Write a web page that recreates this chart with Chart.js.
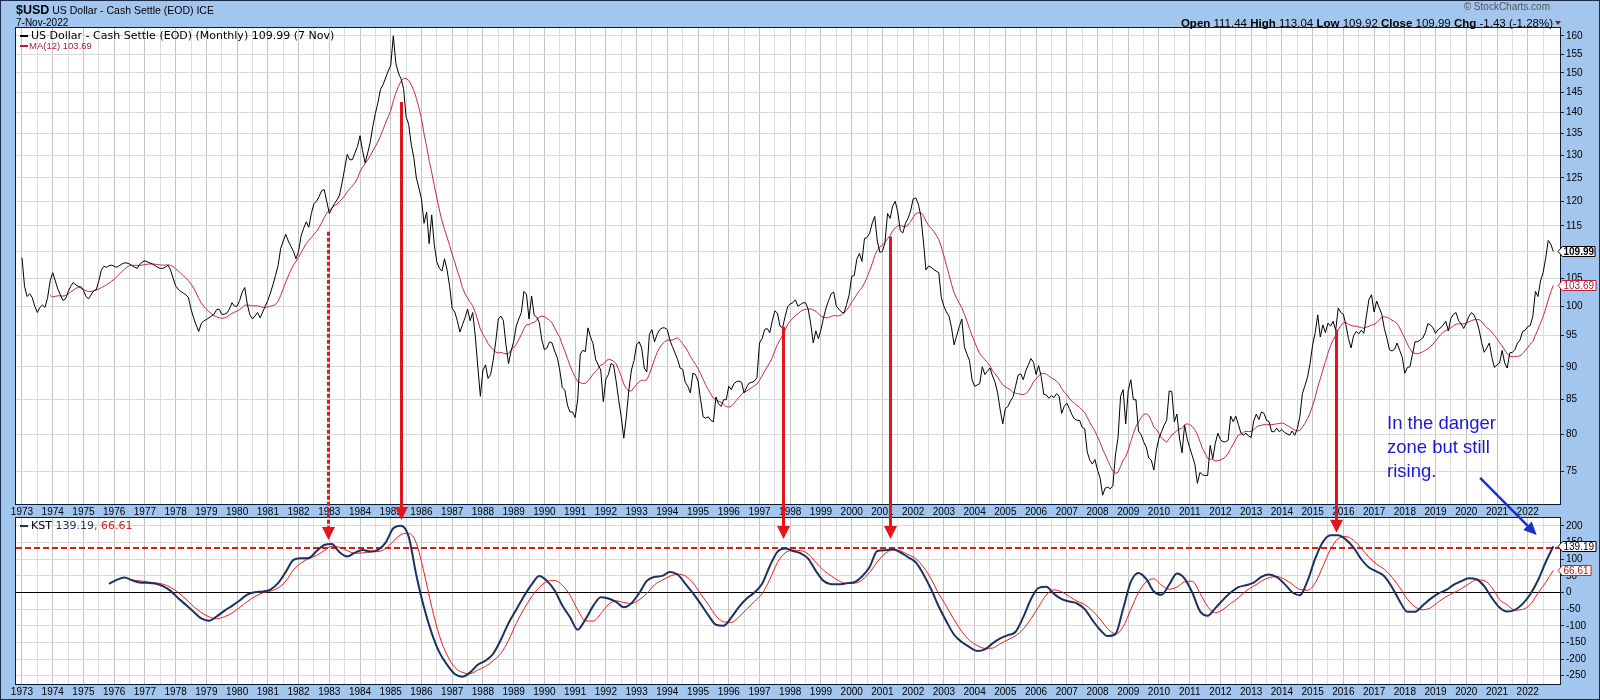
<!DOCTYPE html>
<html><head><meta charset="utf-8">
<script src="https://cdn.jsdelivr.net/npm/chart.js@4.4.0/dist/chart.umd.min.js"></script>
<style>
html,body{margin:0;padding:0;}
body{width:1600px;height:700px;overflow:hidden;background:#a3c6ef;position:relative;font-family:'Liberation Sans',Arial,sans-serif;color:#000;}
canvas{position:absolute;left:0;}
#c1{top:0;} #c2{top:500px;} #ov{top:0;z-index:5;pointer-events:none;}
.t{position:absolute;white-space:nowrap;z-index:6;}
.dash{position:absolute;width:8px;height:2px;z-index:6;}
#frame{position:absolute;left:0;top:0;width:1600px;height:700px;box-sizing:border-box;border:1px solid #1b2a48;pointer-events:none;z-index:10;}
</style></head>
<body>
<canvas id="c1" width="1600" height="522"></canvas>
<canvas id="c2" width="1600" height="200"></canvas>
<canvas id="ov" width="1600" height="700"></canvas>

<div class="t" style="left:16px;top:1px;line-height:16px;"><span style="font-weight:bold;font-size:12.5px;">$USD</span><span style="font-size:10.5px;"> US Dollar - Cash Settle (EOD) ICE</span></div>
<div class="t" style="left:16px;top:15px;line-height:15px;font-size:10px;">7-Nov-2022</div>
<div class="t" style="right:50px;top:0px;line-height:14px;font-size:10px;color:#555;">&copy; StockCharts.com</div>
<div class="t" style="right:47px;top:15px;line-height:16px;font-size:11.5px;"><b>Open</b> 111.44 <b>High</b> 113.04 <b>Low</b> 109.92 <b>Close</b> 109.99 <b>Chg</b> -1.43 (-1.28%)</div>

<div class="dash" style="left:20px;top:35px;background:#000;"></div>
<div class="t" style="left:31px;top:28px;line-height:15px;font-family:'DejaVu Sans';font-size:11px;">US Dollar - Cash Settle (EOD) (Monthly) 109.99 (7 Nov)</div>
<div class="dash" style="left:20px;top:45px;background:#b0203e;"></div>
<div class="t" style="left:29px;top:39px;line-height:13px;font-size:9.5px;color:#a81c3c;">MA(12) 103.69</div>

<div class="dash" style="left:20px;top:525px;background:#1b3160;"></div>
<div class="t" style="left:31px;top:518px;line-height:15px;font-family:'DejaVu Sans';font-size:11px;">KST <span style="color:#1b2f5e">139.19</span><span style="color:#d41c1c">, 66.61</span></div>

<div class="t" style="left:1387px;top:411px;line-height:24px;font-size:18.5px;color:#1a1acc;">In the danger</div>
<div class="t" style="left:1387px;top:435px;line-height:24px;font-size:18.5px;color:#1a1acc;">zone but still</div>
<div class="t" style="left:1387px;top:459px;line-height:24px;font-size:18.5px;color:#1a1acc;">rising.</div>
<div id="frame"></div>

<script>
// ---------- tick labels ----------
const yearLabels = [1973,1974,1975,1976,1977,1978,1979,1980,1981,1982,1983,1984,1985,1986,1987,1988,1989,1990,1991,1992,1993,1994,1995,1996,1997,1998,1999,2000,2001,2002,2003,2004,2005,2006,2007,2008,2009,2010,2011,2012,2013,2014,2015,2016,2017,2018,2019,2020,2021,2022];
const priceTicks = [75,80,85,90,95,100,105,110,115,120,125,130,135,140,145,150,155,160];
const kstTicks = [-250,-200,-150,-100,-50,0,50,100,150,200];

// ---------- US Dollar index, monthly closes (Jan 1973 .. Nov 2022) ----------
const usd1970s = [
108.8,103.5,101.7,102.2,101.5,100.0,98.9,99.8,100.2,99.8,101.5,104.5,
106.0,104.5,103.0,102.0,101.0,101.3,102.5,103.5,104.2,103.8,103.5,103.4,
102.8,101.7,101.3,102.0,102.7,102.9,104.5,106.5,107.2,107.0,107.3,107.4,
107.2,107.0,107.3,107.6,107.8,107.8,107.6,107.3,107.0,106.8,107.5,108.0,
108.2,108.0,107.8,107.6,107.3,107.0,106.8,106.8,107.0,107.4,106.5,105.0,
103.6,103.0,102.6,102.3,102.0,101.5,99.5,98.0,96.8,95.7,97.0,97.5,
97.7,98.0,98.3,98.6,99.4,99.5,98.6,98.6,98.8,99.5,100.6,100.0];
const usd1980s = [
100.0,101.0,102.5,103.3,100.3,98.5,97.8,98.3,98.9,98.0,99.0,100.0,
101.0,102.3,103.8,105.5,107.3,110.5,112.0,113.3,112.0,111.0,110.0,108.6,
110.0,113.0,114.5,115.8,114.7,117.5,119.5,120.0,121.0,122.2,122.5,120.0,
117.5,118.5,119.5,120.3,121.3,124.0,127.0,130.2,129.0,129.0,130.5,132.0,
134.5,131.0,128.3,130.5,133.0,136.7,139.8,142.5,145.8,147.0,148.7,150.5,
152.0,160.0,152.5,150.0,148.5,146.0,139.0,137.2,132.5,129.5,125.0,122.8,
120.5,115.5,117.8,111.5,117.2,111.3,108.0,106.8,106.3,108.6,106.5,103.5,
99.6,99.0,97.5,95.6,96.8,98.0,99.5,97.5,98.9,95.0,90.0,85.5,
89.5,90.3,88.2,88.8,91.0,94.0,97.8,98.3,97.5,93.5,90.5,92.5,
94.0,96.6,97.8,98.9,102.6,102.1,97.8,101.8,98.5,98.1,97.2,94.3];
const usd1990s = [
92.7,93.0,94.0,93.8,92.5,91.5,89.5,86.8,86.4,84.2,83.2,83.2,
82.4,85.0,92.0,92.6,92.4,96.3,94.8,93.7,91.2,90.3,89.5,84.7,
88.1,88.8,90.5,90.3,87.8,85.0,82.5,79.5,82.5,86.5,89.5,91.0,
93.5,94.0,93.0,89.8,89.2,95.2,96.0,94.0,95.2,96.0,96.3,96.3,
96.0,94.3,93.2,92.2,91.2,89.8,89.6,87.6,87.0,86.0,89.0,88.8,
87.8,85.0,82.5,82.3,82.5,82.0,81.8,85.4,84.4,84.0,85.0,85.0,
87.0,86.5,87.4,87.7,87.8,87.6,86.0,86.9,87.5,87.6,87.8,88.3,
93.8,94.5,96.0,96.2,95.5,97.5,99.2,98.8,96.6,96.3,98.2,99.9,
100.4,100.6,101.1,100.0,100.3,100.6,100.6,99.5,97.0,93.8,95.8,94.5,
96.0,98.0,99.7,101.0,102.2,102.5,100.0,99.5,99.0,98.8,100.3,102.0];
const usd2000s = [
105.3,105.5,108.5,109.6,108.1,112.5,112.7,113.5,115.5,116.9,112.0,109.8,
110.0,111.7,117.5,116.5,119.0,120.0,117.8,114.0,113.6,115.5,116.5,118.0,
120.5,120.7,119.5,117.0,112.0,106.5,107.2,107.0,106.6,106.3,106.0,101.5,
100.0,99.0,98.3,96.3,93.5,95.0,96.5,97.8,93.2,92.0,91.0,88.0,
87.0,87.2,87.4,90.0,88.8,89.3,89.8,88.6,87.6,86.0,83.5,81.5,
83.7,84.0,84.8,85.4,87.0,88.7,88.9,88.0,89.4,90.3,91.3,90.7,
88.8,90.2,88.5,85.8,85.7,85.2,85.6,85.3,85.9,85.5,83.0,84.0,
84.5,83.7,82.8,82.2,82.0,82.0,81.0,80.8,77.6,76.5,76.0,76.6,
75.2,74.2,72.0,72.9,73.0,72.8,73.2,77.2,79.5,85.5,86.5,81.5,
86.4,88.0,85.0,85.0,80.5,80.0,79.0,78.3,76.8,76.5,75.2,77.9];
const usd2010s = [
79.5,80.4,81.3,82.0,86.3,86.2,81.8,82.9,79.5,77.5,81.3,79.4,
78.2,77.1,76.0,73.5,74.9,74.6,74.5,74.5,78.5,76.7,78.8,80.2,
79.3,79.0,79.0,79.2,82.6,81.8,82.6,81.4,80.2,79.9,80.2,79.8,
79.6,81.9,82.9,82.1,83.2,83.0,82.0,81.8,80.4,80.4,80.9,80.4,
80.7,80.3,80.1,79.9,80.5,79.9,80.8,82.5,85.9,87.1,88.4,90.5,
93.5,95.5,98.5,94.8,96.8,95.5,97.1,96.6,97.4,95.9,99.7,98.9,
98.6,96.8,94.5,93.0,95.0,95.7,95.3,95.9,95.4,98.3,101.2,102.0,
99.0,100.9,99.7,98.6,96.2,94.6,92.7,92.5,92.8,93.8,92.6,91.5,
89.0,89.9,90.0,92.0,94.0,94.0,94.3,94.6,95.5,97.0,96.8,96.3,
95.4,96.0,96.3,96.8,97.4,95.8,97.9,98.6,98.9,97.5,97.0,96.2];
const usd2020s = [
97.1,98.2,98.9,98.5,97.5,96.0,93.9,92.3,93.0,93.8,91.5,89.9,
90.3,90.6,92.6,90.6,89.8,92.2,92.3,92.7,93.8,94.3,95.7,95.9,
96.5,96.7,98.3,102.6,101.7,104.5,106.0,108.7,112.1,111.4,109.99];

// ---------- KST (quarterly readings, Nov 1975 .. Nov 2022) ----------
const kst1970s = [26, 38,45,37,30, 29,27,19,5, -17,-37,-58,-78, -85,-72,-55,-40];
const kst1980s = [-24,-6,1,3, 9,28,62,98, 103,104,124,143, 146,121,108,120, 128,123,128,150,
  193,201,168,52, -45,-122,-180,-217, -245,-253,-240,-217, -205,-184,-142,-92, -52,-11,24,50];
const kst1990s = [35,6,-39,-74, -112,-81,-41,-14, -18,-28,-44,-32, -2,35,47,50, 62,54,27,-2,
  -34,-68,-97,-100, -75,-43,-18,0, 26,79,122,132, 125,118,102,65, 35,25,25,28];
const kst2000s = [31,48,77,125, 127,130,121,106, 91,55,10,-42, -87,-127,-149,-164, -176,-171,-153,-138,
  -128,-118,-74,-20, 14,17,-4,-20, -27,-33,-50,-83, -112,-131,-125,-49, 32,59,41,3];
const kst2010s = [-7,24,57,42, 0,-56,-70,-47, -22,0,16,22, 30,47,54,46, 26,1,-8,35,
  102,152,172,172, 159,135,100,75, 63,49,16,-26, -58,-58,-39,-19, -3,7,23,34];
const kst2020s = [43,40,19,-16, -45,-57,-52,-34, -5,37,91,139.19];

// ---------- KST signal line (quarterly readings, Aug 1976 .. Nov 2022) ----------
const sig1970s = [37,35, 32,29,25,16, 0,-20,-42,-60, -73,-79,-73,-62];
const sig1980s = [-45,-27,-12,-1, 4,14,34,68, 89,102,111,126, 139,136,126,118, 119,122,123,132,
  154,174,178,148, 60,-43,-130,-188, -225,-240,-244,-233, -222,-205,-183,-144, -93,-50,-13,15];
const sig1990s = [33,36,22,-8, -52,-85,-86,-64, -36,-25,-30,-33, -22,-3,23,37, 49,55,50,29,
  -4,-36,-70,-88, -90,-73,-50,-27, -4,39,90,119, 127,126,116,91, 67,50,35,27];
const sig2000s = [28,37,61,92, 117,128,125,114, 102,77,41,-4, -41,-82,-117,-144, -159,-168,-167,-154,
  -142,-130,-110,-79, -43,-7,8,2, -12,-26,-36,-55, -80,-109,-124,-103, -51,0,32,41];
const sig2010s = [22,10,16,32, 34,-2,-42,-61, -51,-33,-16,5, 19,34,45,48, 40,25,9,7,
  29,78,130,162, 168,157,133,106, 85,70,46,15, -20,-43,-52,-46, -29,-13,-1,11];
const sig2020s = [26,38,36,15, -21,-37,-53,-51, -36,-2,30,66.61];

// ---------- annotations ----------
const closeLabel = '109.99', maLabel = '103.69', kstLabel = '139.19', sigLabel = '66.61';
const dangerLevel = 135;
const arrowYears = [1982.95, 1985.34, 1997.78, 2001.25, 2015.75];
const arrowFromPrice = [113.8, 142.6, 96.5, 112.9, 96.0];
const arrowToKst = [158, 218, 161, 161, 180];
const arrowDashed = [true, false, false, false, false];
const blueArrowFrom = {year: 2020.45, price: 74.2};
const blueArrowTo = {year: 2022.29, kst: 173};

// ---------- build datasets ----------
const X_MIN = 1972.805, X_MAX = 2023.05;
const gridTicks = [];
yearLabels.forEach(y => { gridTicks.push(y); gridTicks.push(y + 0.5); });

const usdMonthly = [].concat(usd1970s, usd1980s, usd1990s, usd2000s, usd2010s, usd2020s);
const pricePoints = usdMonthly.map((v, i) => ({x: 1973 + i / 12, y: v}));
const maPoints = [];
for (let i = 11; i < usdMonthly.length; i++) {
  let s = 0; for (let k = i - 11; k <= i; k++) s += usdMonthly[k];
  maPoints.push({x: 1973 + i / 12, y: s / 12});
}
const kstAll = [].concat(kst1970s, kst1980s, kst1990s, kst2000s, kst2010s, kst2020s);
const sigAll = [].concat(sig1970s, sig1980s, sig1990s, sig2000s, sig2010s, sig2020s);
const kstPoints = kstAll.map((v, i) => ({x: 1973 + (34 + 3 * i) / 12, y: v}));
const sigPoints = sigAll.map((v, i) => ({x: 1973 + (43 + 3 * i) / 12, y: v}));

const FONT = {family: "'Liberation Sans', Arial, sans-serif", size: 10};

function xScale(h) {
  return {
    type: 'linear', min: X_MIN, max: X_MAX, position: 'bottom',
    afterBuildTicks: s => { s.ticks = gridTicks.map(v => ({value: v})); },
    afterFit: s => { s.height = h; },
    border: {display: false},
    grid: {drawTicks: false, lineWidth: 1,
      color: c => (c.tick && Number.isInteger(c.tick.value)) ? '#c4c4c4' : '#dddddd'},
    ticks: {autoSkip: false, maxRotation: 0, minRotation: 0, padding: 2, color: '#000', font: FONT,
      callback: v => Number.isInteger(v) ? String(v) : ''}
  };
}

function drawTag(ctx, x, y, text, border, color, bold, w) {
  ctx.save();
  y = Math.round(y) + 0.5;
  const h = 10;
  ctx.beginPath();
  ctx.moveTo(x - 2, y);
  ctx.lineTo(x + 2.5, y - h / 2);
  ctx.lineTo(x + w, y - h / 2);
  ctx.lineTo(x + w, y + h / 2);
  ctx.lineTo(x + 2.5, y + h / 2);
  ctx.closePath();
  ctx.fillStyle = '#fff'; ctx.fill();
  ctx.strokeStyle = border; ctx.lineWidth = 1; ctx.stroke();
  ctx.font = (bold ? 'bold ' : '') + "10px 'Liberation Sans', Arial, sans-serif";
  ctx.fillStyle = color; ctx.textBaseline = 'middle'; ctx.textAlign = 'left';
  ctx.fillText(text, x + 3.5, y + 0.5);
  ctx.restore();
}

function frame(chart) {
  const {ctx, chartArea: a} = chart;
  ctx.save(); ctx.strokeStyle = '#0e1b36'; ctx.lineWidth = 1;
  ctx.strokeRect(Math.round(a.left) - 0.5, Math.round(a.top) - 0.5, Math.round(a.right - a.left) + 1, Math.round(a.bottom - a.top) + 1);
  ctx.restore();
}
function whiteBg(chart) {
  const {ctx, chartArea: a} = chart;
  ctx.save(); ctx.fillStyle = '#fff'; ctx.fillRect(a.left, a.top, a.right - a.left, a.bottom - a.top); ctx.restore();
}

const pricePanel = {
  id: 'pricePanel',
  beforeDraw: whiteBg,
  afterDraw(chart) {
    frame(chart);
    const y = chart.scales.y, r = chart.chartArea.right;
    drawTag(chart.ctx, r, y.getPixelForValue(maPoints[maPoints.length - 1].y), maLabel, '#c0203c', '#a01838', false, 36);
    drawTag(chart.ctx, r, y.getPixelForValue(usdMonthly[usdMonthly.length - 1]), closeLabel, '#000', '#000', true, 35);
  }
};
const kstPanel = {
  id: 'kstPanel',
  beforeDraw: whiteBg,
  beforeDatasetsDraw(chart) {
    const {ctx, chartArea: a} = chart;
    const y = Math.round(chart.scales.y.getPixelForValue(dangerLevel));
    ctx.save(); ctx.strokeStyle = '#e01a1a'; ctx.lineWidth = 2; ctx.setLineDash([6, 3]);
    ctx.beginPath(); ctx.moveTo(a.left, y); ctx.lineTo(a.right, y); ctx.stroke(); ctx.restore();
  },
  afterDraw(chart) {
    frame(chart);
    const y = chart.scales.y, r = chart.chartArea.right;
    drawTag(chart.ctx, r, y.getPixelForValue(sigAll[sigAll.length - 1]), sigLabel, '#e01a1a', '#b01818', false, 31);
    drawTag(chart.ctx, r, y.getPixelForValue(kstAll[kstAll.length - 1]), kstLabel, '#000', '#000', false, 36);
  }
};

const chart1 = new Chart(document.getElementById('c1'), {
  type: 'line',
  data: {datasets: [
    {data: pricePoints, borderColor: '#000', borderWidth: 1, pointRadius: 0, tension: 0},
    {data: maPoints, borderColor: '#c8284c', borderWidth: 1, pointRadius: 0, tension: 0}
  ]},
  options: {
    responsive: false, animation: false, devicePixelRatio: 1,
    layout: {padding: {left: 16, top: 28, right: 0, bottom: 0}},
    plugins: {legend: {display: false}, tooltip: {enabled: false}},
    scales: {
      x: xScale(18),
      y: {type: 'logarithmic', position: 'right', min: 70.9, max: 162.2,
        afterBuildTicks: s => { s.ticks = priceTicks.map(v => ({value: v})); },
        afterFit: s => { s.width = 40; },
        border: {display: false},
        grid: {color: '#d9d9d9', drawTicks: true, tickLength: 4, tickColor: '#222'},
        ticks: {autoSkip: false, padding: 2, color: '#000', font: FONT, callback: v => String(v)}}
    }
  },
  plugins: [pricePanel]
});

const chart2 = new Chart(document.getElementById('c2'), {
  type: 'line',
  data: {datasets: [
    {data: kstPoints, borderColor: '#1b3160', borderWidth: 2, pointRadius: 0, cubicInterpolationMode: 'monotone'},
    {data: sigPoints, borderColor: '#ec1c1c', borderWidth: 1, pointRadius: 0, cubicInterpolationMode: 'monotone'}
  ]},
  options: {
    responsive: false, animation: false, devicePixelRatio: 1,
    layout: {padding: {left: 16, top: 18, right: 0, bottom: 0}},
    plugins: {legend: {display: false}, tooltip: {enabled: false}},
    scales: {
      x: xScale(16),
      y: {type: 'linear', position: 'right', min: -275, max: 224,
        afterBuildTicks: s => { s.ticks = kstTicks.map(v => ({value: v})); },
        afterFit: s => { s.width = 40; },
        border: {display: false},
        grid: {drawTicks: true, tickLength: 4, tickColor: '#222',
          color: c => (c.tick && c.tick.value === 0) ? '#000' : '#d9d9d9'},
        ticks: {autoSkip: false, padding: 2, color: '#000', font: FONT, callback: v => String(v)}}
    }
  },
  plugins: [kstPanel]
});

// ---------- overlay: arrows spanning both panels ----------
function drawOverlay() {
  const ctx = document.getElementById('ov').getContext('2d');
  const x1 = chart1.scales.x, y1 = chart1.scales.y, x2 = chart2.scales.x, y2 = chart2.scales.y;
  const off2 = 500;
  ctx.fillStyle = '#e3141a'; ctx.strokeStyle = '#e3141a';
  arrowYears.forEach((yr, i) => {
    const x = Math.round(x1.getPixelForValue(yr)) + 0.5;
    const yStart = y1.getPixelForValue(arrowFromPrice[i]);
    const yTip = off2 + y2.getPixelForValue(arrowToKst[i]);
    const head = 13;
    ctx.lineWidth = 3;
    ctx.setLineDash(arrowDashed[i] ? [4, 2] : []);
    ctx.beginPath(); ctx.moveTo(x, yStart); ctx.lineTo(x, yTip - head + 1); ctx.stroke();
    ctx.setLineDash([]);
    ctx.beginPath(); ctx.moveTo(x - 6.5, yTip - head); ctx.lineTo(x + 6.5, yTip - head); ctx.lineTo(x, yTip); ctx.closePath(); ctx.fill();
  });
  // blue arrow
  const bx0 = x1.getPixelForValue(blueArrowFrom.year), by0 = y1.getPixelForValue(blueArrowFrom.price);
  const bx1 = x2.getPixelForValue(blueArrowTo.year), by1 = off2 + y2.getPixelForValue(blueArrowTo.kst);
  const ang = Math.atan2(by1 - by0, bx1 - bx0), hl = 13, hw = 6;
  ctx.strokeStyle = '#1a30cc'; ctx.fillStyle = '#1a30cc'; ctx.lineWidth = 2.5;
  ctx.beginPath(); ctx.moveTo(bx0, by0); ctx.lineTo(bx1 - (hl - 1) * Math.cos(ang), by1 - (hl - 1) * Math.sin(ang)); ctx.stroke();
  const bxh = bx1 - hl * Math.cos(ang), byh = by1 - hl * Math.sin(ang);
  ctx.beginPath();
  ctx.moveTo(bx1, by1);
  ctx.lineTo(bxh + hw * Math.sin(ang), byh - hw * Math.cos(ang));
  ctx.lineTo(bxh - hw * Math.sin(ang), byh + hw * Math.cos(ang));
  ctx.closePath(); ctx.fill();
  // small down triangle after change value in header
  ctx.fillStyle = '#a0143c';
  ctx.beginPath(); ctx.moveTo(1555, 21); ctx.lineTo(1561, 21); ctx.lineTo(1558, 25); ctx.closePath(); ctx.fill();
}
drawOverlay();
</script>
</body></html>
